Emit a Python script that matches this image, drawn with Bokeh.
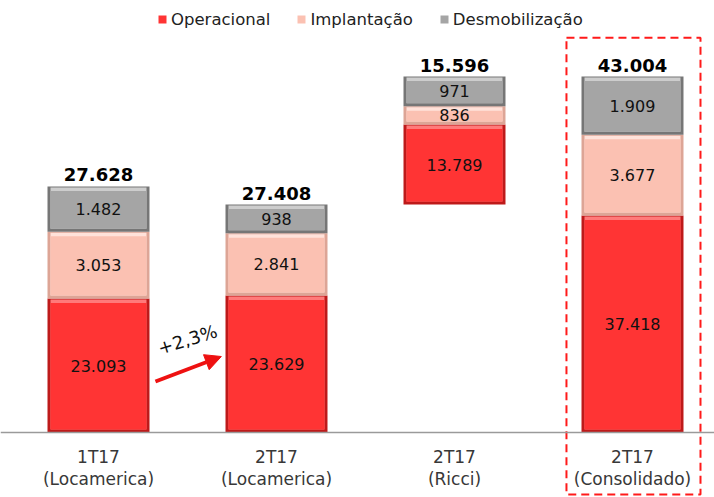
from bokeh.plotting import figure
from bokeh.models import Range1d, Legend, LegendItem, Arrow, NormalHead, Span
from bokeh.core.properties import value
from bokeh.embed import file_html
from bokeh.resources import INLINE

# ---- data (as labelled in the chart) ----
cat_line1 = ["1T17", "2T17", "2T17", "2T17"]
cat_line2 = ["(Locamerica)", "(Locamerica)", "(Ricci)", "(Consolidado)"]
operacional = [23093, 23629, 13789, 37418]
implantacao = [3053, 2841, 836, 3677]
desmobilizacao = [1482, 938, 971, 1909]
totais = [27628, 27408, 15596, 43004]
series_names = ["Operacional", "Implantação", "Desmobilização"]
variacao_label = "+2,3%"

def fmt(v):
    return f"{v:,}".replace(",", ".")

# ---- layout / style ----
FONT_NAME = "DejaVu Sans"
FONT = value(FONT_NAME)
W, H = 714, 497
PX = 5.8                       # px per 1000 units on the red series
BASE_PX = 432                  # baseline distance from frame top
SLOT = 178.0                   # px between bar centres
x0 = -98.0 / SLOT
# the reference draws the small segments exaggerated: display factors per series
disp = [1.0, 3.78, 5.26]
fills = ["#FF3434", "#FBC1B2", "#A5A5A5"]
edges = ["#BE1A1A", "#DDA596", "#767676"]
highs = ["#FF7A7A", "#FFE2DA", "#CDCDCD"]
BAR_W = 0.573
INSET_X = 3.0 / SLOT
INSET_Y = 3.0 / PX

p = figure(width=W, height=H, output_backend="svg", toolbar_location=None,
           x_range=Range1d(x0, x0 + W / SLOT),
           y_range=Range1d(-(H - BASE_PX) / PX, BASE_PX / PX),
           x_axis_location=None, y_axis_location=None,
           min_border=0, outline_line_color=None,
           background_fill_color="white", border_fill_color="white")
p.grid.visible = False

xs = list(range(len(cat_line1)))
series = [operacional, implantacao, desmobilizacao]
scaled = [[v / 1000.0 * f for v in s] for s, f in zip(series, disp)]

# stack bottoms; Ricci (index 2) floats on top of 2T17 Locamerica
stack_tot = [sum(col) for col in zip(*scaled)]
base = [0.0, 0.0, stack_tot[1], 0.0]

renderers = []
label_x, label_y, label_t = [], [], []
cur = list(base)
for k, seg in enumerate(scaled):
    bottoms = list(cur)
    tops = [b + h for b, h in zip(bottoms, seg)]
    # bevelled look: dark frame, lighter top strip, main face
    p.vbar(x=xs, bottom=bottoms, top=tops, width=BAR_W,
           fill_color=edges[k], line_color=None)
    p.vbar(x=xs, bottom=[b + INSET_Y for b in bottoms], top=[t - 1.0 / PX for t in tops],
           width=BAR_W - 2 * INSET_X, fill_color=highs[k], line_color=None)
    r = p.vbar(x=xs, bottom=[b + INSET_Y for b in bottoms], top=[t - INSET_Y - 1.5 / PX for t in tops],
               width=BAR_W - 2 * INSET_X, fill_color=fills[k], line_color=None)
    renderers.append(r)
    for i in xs:
        label_x.append(i)
        label_y.append((bottoms[i] + tops[i]) / 2)
        label_t.append(fmt(series[k][i]))
    cur = tops

p.text(x=label_x, y=label_y, text=label_t, text_font=FONT, text_font_size="16px",
       text_color="#111111", text_align="center", text_baseline="middle")

tops_final = cur
p.text(x=xs, y=[t + 5 / PX for t in tops_final], text=[fmt(t) for t in totais],
       text_font=FONT, text_font_size="18px", text_font_style="bold",
       text_color="#000000", text_align="center", text_baseline="bottom")

# baseline
p.add_layout(Span(location=0, dimension="width", line_color="#9A9A9A", line_width=1.5))

# category labels
p.text(x=xs, y=[-24 / PX] * 4, text=cat_line1, text_font=FONT, text_font_size="17px",
       text_color="#383838", text_align="center", text_baseline="middle")
p.text(x=xs, y=[-46 / PX] * 4, text=cat_line2, text_font=FONT, text_font_size="17px",
       text_color="#383838", text_align="center", text_baseline="middle")

# growth arrow between the two Locamerica bars
p.add_layout(Arrow(x_start=0.32, y_start=51 / PX, x_end=0.69, y_end=76 / PX,
                   line_color="#EE1111", line_width=4,
                   end=NormalHead(size=16, fill_color="#EE1111", line_color="#EE1111")))
p.text(x=[0.50], y=[93 / PX], text=[variacao_label], angle=0.3,
       text_font=FONT, text_font_size="18px", text_color="#111111",
       text_align="center", text_baseline="middle")

# dashed highlight box around the consolidated bar
p.quad(left=[3 - 0.371], right=[3 + 0.382], bottom=[-(494 - BASE_PX) / PX],
       top=[tops_final[3] + 6.7], fill_alpha=0, line_color="#FF1A1A",
       line_width=2, line_dash="8 5")

legend = Legend(items=[LegendItem(label=n, renderers=[r]) for n, r in zip(series_names, renderers)],
                orientation="horizontal", location=(157, H - 29),
                padding=0, margin=0, spacing=26, label_standoff=4,
                glyph_width=10, glyph_height=10, label_height=20,
                label_text_font=FONT_NAME, label_text_font_size="16.5px",
                label_text_color="#222222",
                border_line_alpha=0, background_fill_alpha=0)
p.add_layout(legend)

open("out.html", "w").write(file_html(p, INLINE))
